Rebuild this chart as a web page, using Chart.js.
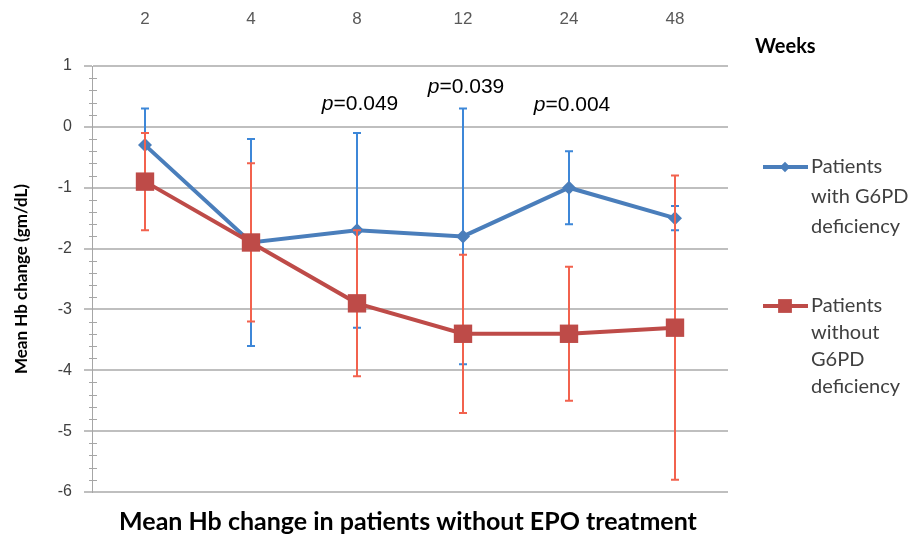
<!DOCTYPE html>
<html>
<head>
<meta charset="utf-8">
<script src="https://cdn.jsdelivr.net/npm/chart.js@4.4.1/dist/chart.umd.min.js"></script>
<style>
  html, body { margin: 0; padding: 0; background: #fff; }
  #wrap { width: 908px; height: 540px; }
</style>
</head>
<body>
<div id="wrap"><canvas id="hbChart" width="908" height="540"></canvas></div>
<script>
// weeks on the top axis
const weeks = ['2', '4', '8', '12', '24', '48'];

// patients with G6PD deficiency
const withG6PD     = [-0.3, -1.9, -1.7, -1.8, -1.0, -1.5];
const withHigh     = [ 0.3, -0.2, -0.1,  0.3, -0.4, -1.3];
const withLow      = [-0.9, -3.6, -3.3, -3.9, -1.6, -1.7];

// patients without G6PD deficiency
const withoutG6PD  = [-0.9, -1.9, -2.9, -3.4, -3.4, -3.3];
const withoutHigh  = [-0.1, -0.6, -1.7, -2.1, -2.3, -0.8];
const withoutLow   = [-1.7, -3.2, -4.1, -4.7, -4.5, -5.8];

// p-value annotations
const pWeeks  = ['8', '12', '24'];
const pValues = ['0.049', '0.039', '0.004'];
const pLevels = [0.38, 0.65, 0.35];

const yTicks = [1, 0, -1, -2, -3, -4, -5, -6];

const FONT = 'Lato, "Open Sans", sans-serif';
const SANS = '"Liberation Sans", Arial, sans-serif';
const BLUE = '#4a7ebb', BLUE_ERR = '#3d87d8';
const RED = '#be4b48', RED_ERR = '#f2624e';

const errorBars = {
  id: 'errorBars',
  beforeDatasetDraw(chart, args) {
    const ds = chart.data.datasets[args.index];
    if (!ds.errHigh) return;
    const { ctx } = chart;
    const x = chart.scales.x, y = chart.scales.y;
    ctx.save();
    ctx.strokeStyle = ds.errColor;
    ctx.lineWidth = 2;
    ds.data.forEach((v, i) => {
      const px = x.getPixelForValue(i);
      const top = y.getPixelForValue(ds.errHigh[i]);
      const bot = y.getPixelForValue(ds.errLow[i]);
      ctx.beginPath();
      ctx.moveTo(px, top); ctx.lineTo(px, bot);
      ctx.moveTo(px - 4, top); ctx.lineTo(px + 4, top);
      ctx.moveTo(px - 4, bot); ctx.lineTo(px + 4, bot);
      ctx.stroke();
    });
    ctx.restore();
  }
};

const extras = {
  id: 'extras',
  beforeDatasetsDraw(chart) {
    // minor ticks on the y axis
    const { ctx, chartArea } = chart;
    const y = chart.scales.y;
    ctx.save();
    ctx.strokeStyle = '#a6a6a6';
    ctx.lineWidth = 1;
    for (let k = -30; k <= 5; k++) {
      if (k % 5 === 0) continue;
      const py = Math.round(y.getPixelForValue(k / 5)) + 0.5;
      ctx.beginPath();
      ctx.moveTo(chartArea.left - 3, py);
      ctx.lineTo(chartArea.left + 5, py);
      ctx.stroke();
    }
    ctx.restore();
  },
  afterDraw(chart) {
    const { ctx, chartArea } = chart;
    const x = chart.scales.x, y = chart.scales.y;
    ctx.save();
    ctx.fillStyle = '#000';
    ctx.textBaseline = 'middle';

    // p values
    pWeeks.forEach((w, i) => {
      const cx = x.getPixelForValue(weeks.indexOf(w));
      const cy = y.getPixelForValue(pLevels[i]);
      ctx.font = 'italic 21px ' + SANS;
      const pw = ctx.measureText('p').width;
      ctx.font = '21px ' + SANS;
      const rest = '=' + pValues[i];
      const rw = ctx.measureText(rest).width;
      const sx = cx - (pw + rw) / 2 + 3;
      ctx.textAlign = 'left';
      ctx.font = 'italic 21px ' + SANS;
      ctx.fillText('p', sx, cy);
      ctx.font = '21px ' + SANS;
      ctx.fillText(rest, sx + pw, cy);
    });

    // axis titles
    ctx.font = 'bold 20px ' + FONT;
    ctx.textAlign = 'left';
    ctx.fillText('Weeks', 755, 47);

    ctx.font = 'bold 25px ' + FONT;
    ctx.textAlign = 'center';
    ctx.fillText('Mean Hb change in patients without EPO treatment', 408, 522);

    ctx.save();
    ctx.translate(22, (chartArea.top + chartArea.bottom) / 2);
    ctx.rotate(-Math.PI / 2);
    ctx.font = 'bold 17px ' + FONT;
    ctx.fillText('Mean Hb change (gm/dL)', 0, 0);
    ctx.restore();

    // legend
    const items = [
      { ds: chart.data.datasets[0], lines: ['Patients', 'with G6PD', 'deficiency'], y: 167, gap: 30 },
      { ds: chart.data.datasets[1], lines: ['Patients', 'without', 'G6PD', 'deficiency'], y: 306, gap: 27 }
    ];
    items.forEach(it => {
      ctx.strokeStyle = it.ds.borderColor;
      ctx.lineWidth = 4;
      ctx.beginPath();
      ctx.moveTo(763, it.y); ctx.lineTo(808, it.y);
      ctx.stroke();
      ctx.fillStyle = it.ds.borderColor;
      Chart.helpers.drawPoint(ctx, {
        pointStyle: it.ds.pointStyle,
        radius: it.ds.pointRadius * 0.75,
        borderWidth: 0
      }, 785, it.y);
      ctx.fillStyle = '#404040';
      ctx.font = '20px ' + FONT;
      ctx.textAlign = 'left';
      it.lines.forEach((t, j) => ctx.fillText(t, 811, it.y + j * it.gap));
    });
    ctx.restore();
  }
};

new Chart(document.getElementById('hbChart'), {
  type: 'line',
  data: {
    labels: weeks,
    datasets: [
      {
        label: 'Patients with G6PD deficiency',
        data: withG6PD,
        errHigh: withHigh,
        errLow: withLow,
        errColor: BLUE_ERR,
        borderColor: BLUE,
        backgroundColor: BLUE,
        borderWidth: 4,
        pointStyle: 'rectRot',
        pointRadius: 7,
        pointBorderWidth: 0,
        tension: 0,
        order: 1
      },
      {
        label: 'Patients without G6PD deficiency',
        data: withoutG6PD,
        errHigh: withoutHigh,
        errLow: withoutLow,
        errColor: RED_ERR,
        borderColor: RED,
        backgroundColor: RED,
        borderWidth: 4,
        pointStyle: 'rect',
        pointRadius: 13,
        pointBorderWidth: 0,
        tension: 0,
        order: 0
      }
    ]
  },
  options: {
    responsive: false,
    animation: false,
    layout: { padding: { left: 0, top: 0, right: 180, bottom: 48 } },
    plugins: {
      legend: { display: false },
      tooltip: { enabled: false }
    },
    scales: {
      x: {
        position: 'top',
        offset: true,
        grid: { display: false },
        border: { display: false },
        ticks: { color: '#595959', font: { family: SANS, size: 17 }, padding: 28 },
        afterFit: s => { s.height = 66; }
      },
      y: {
        min: -6,
        max: 1,
        afterBuildTicks: s => { s.ticks = yTicks.map(v => ({ value: v })); },
        grid: { color: '#bfbfbf', lineWidth: 2, tickLength: 8 },
        border: { color: '#a6a6a6', width: 1 },
        ticks: { color: '#404040', font: { family: SANS, size: 16 }, padding: 12 },
        afterFit: s => { s.width = 92; }
      }
    }
  },
  plugins: [errorBars, extras]
});
</script>
</body>
</html>
